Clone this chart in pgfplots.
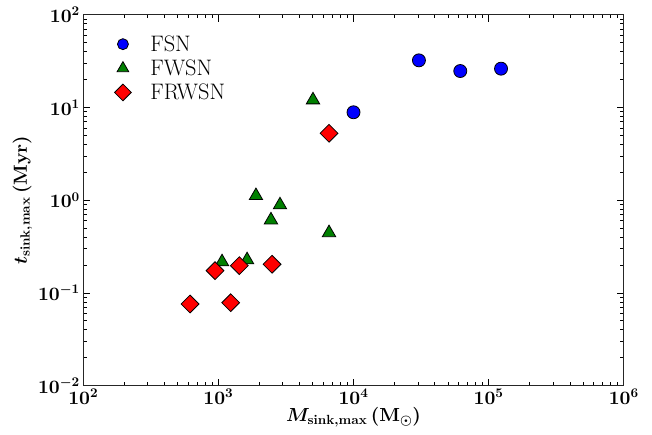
\documentclass[border=0pt]{standalone}
\usepackage{graphicx}
\usepackage{pgfplots}
\pgfplotsset{compat=1.18}
\DeclareFontShape{OT1}{cmr}{m}{n}{<->cmr10}{}
\DeclareFontShape{OT1}{cmr}{bx}{n}{<->cmbx10}{}
\DeclareFontShape{OML}{cmm}{m}{it}{<->cmmi10}{}
\DeclareFontShape{OML}{cmm}{b}{it}{<->cmmib10}{}
\DeclareFontShape{OMS}{cmsy}{m}{n}{<->cmsy10}{}
\DeclareFontShape{OMS}{cmsy}{b}{n}{<->cmbsy10}{}
\begin{document}
\begin{tikzpicture}
\begin{axis}[
  scale only axis, width=540.4bp, height=371bp,
  xmode=log, ymode=log,
  xmin=1e2, xmax=1e6, ymin=1e-2, ymax=1e2,
  xtick={1e2,1e3,1e4,1e5,1e6}, ytick={1e-2,1e-1,1e0,1e1,1e2},
  tick align=inside, major tick length=7bp, minor tick length=3.5bp,
  tick style={black, line width=0.8bp},
  axis line style={line width=1bp, black!85},
  every tick label/.append style={font=\fontsize{19}{22}\selectfont\boldmath},
  xlabel={$M_{\mathrm{sink,max}}\,(\mathrm{M}_{\odot})$},
  ylabel={$t_{\mathrm{sink,max}}\,(\mathrm{Myr})$},
  label style={font=\fontsize{19}{23}\selectfont\boldmath},
  xlabel style={yshift=4bp},
  ylabel style={yshift=-1bp},
  legend style={draw=none, fill=none, at={(0.052,0.955)}, anchor=north west,
    font=\fontsize{22.5}{25}\selectfont, row sep=3bp, column sep=17bp},
  legend cell align=left,
]
\addplot[only marks, mark=*, mark size=6.5bp, mark options={fill={rgb,255:red,0;green,0;blue,255}, draw=black, line width=0.8bp},
  legend image post style={mark size=5.5bp}]
  coordinates {(1.0e4,8.87) (30500,32.2) (61700,24.7) (123600,26.2)};
\addlegendentry{FSN}
\addplot[only marks, mark=triangle*, mark size=7.7bp, mark options={fill={rgb,255:red,0;green,128;blue,0}, draw=black, line width=0.8bp},
  legend image post style={mark size=6.7bp}]
  coordinates {(5012,12.03) (1897,1.117) (2857,0.888) (2449,0.611) (1064,0.216) (1630,0.227) (6590,0.445)};
\addlegendentry{FWSN}
\addplot[only marks, mark=square*, mark size=6.3bp, mark options={rotate=45, fill={rgb,255:red,255;green,0;blue,0}, draw=black, line width=0.8bp},
  legend image post style={mark size=5.9bp}]
  coordinates {(617,0.076) (944,0.174) (1233,0.0785) (1429,0.197) (2495,0.204) (6590,5.27)};
\addlegendentry{FRWSN}
\end{axis}
\path (current axis.south west) ++(-83.3bp,-49.3bp) rectangle ++(652bp,435bp);
\end{tikzpicture}
\end{document}
